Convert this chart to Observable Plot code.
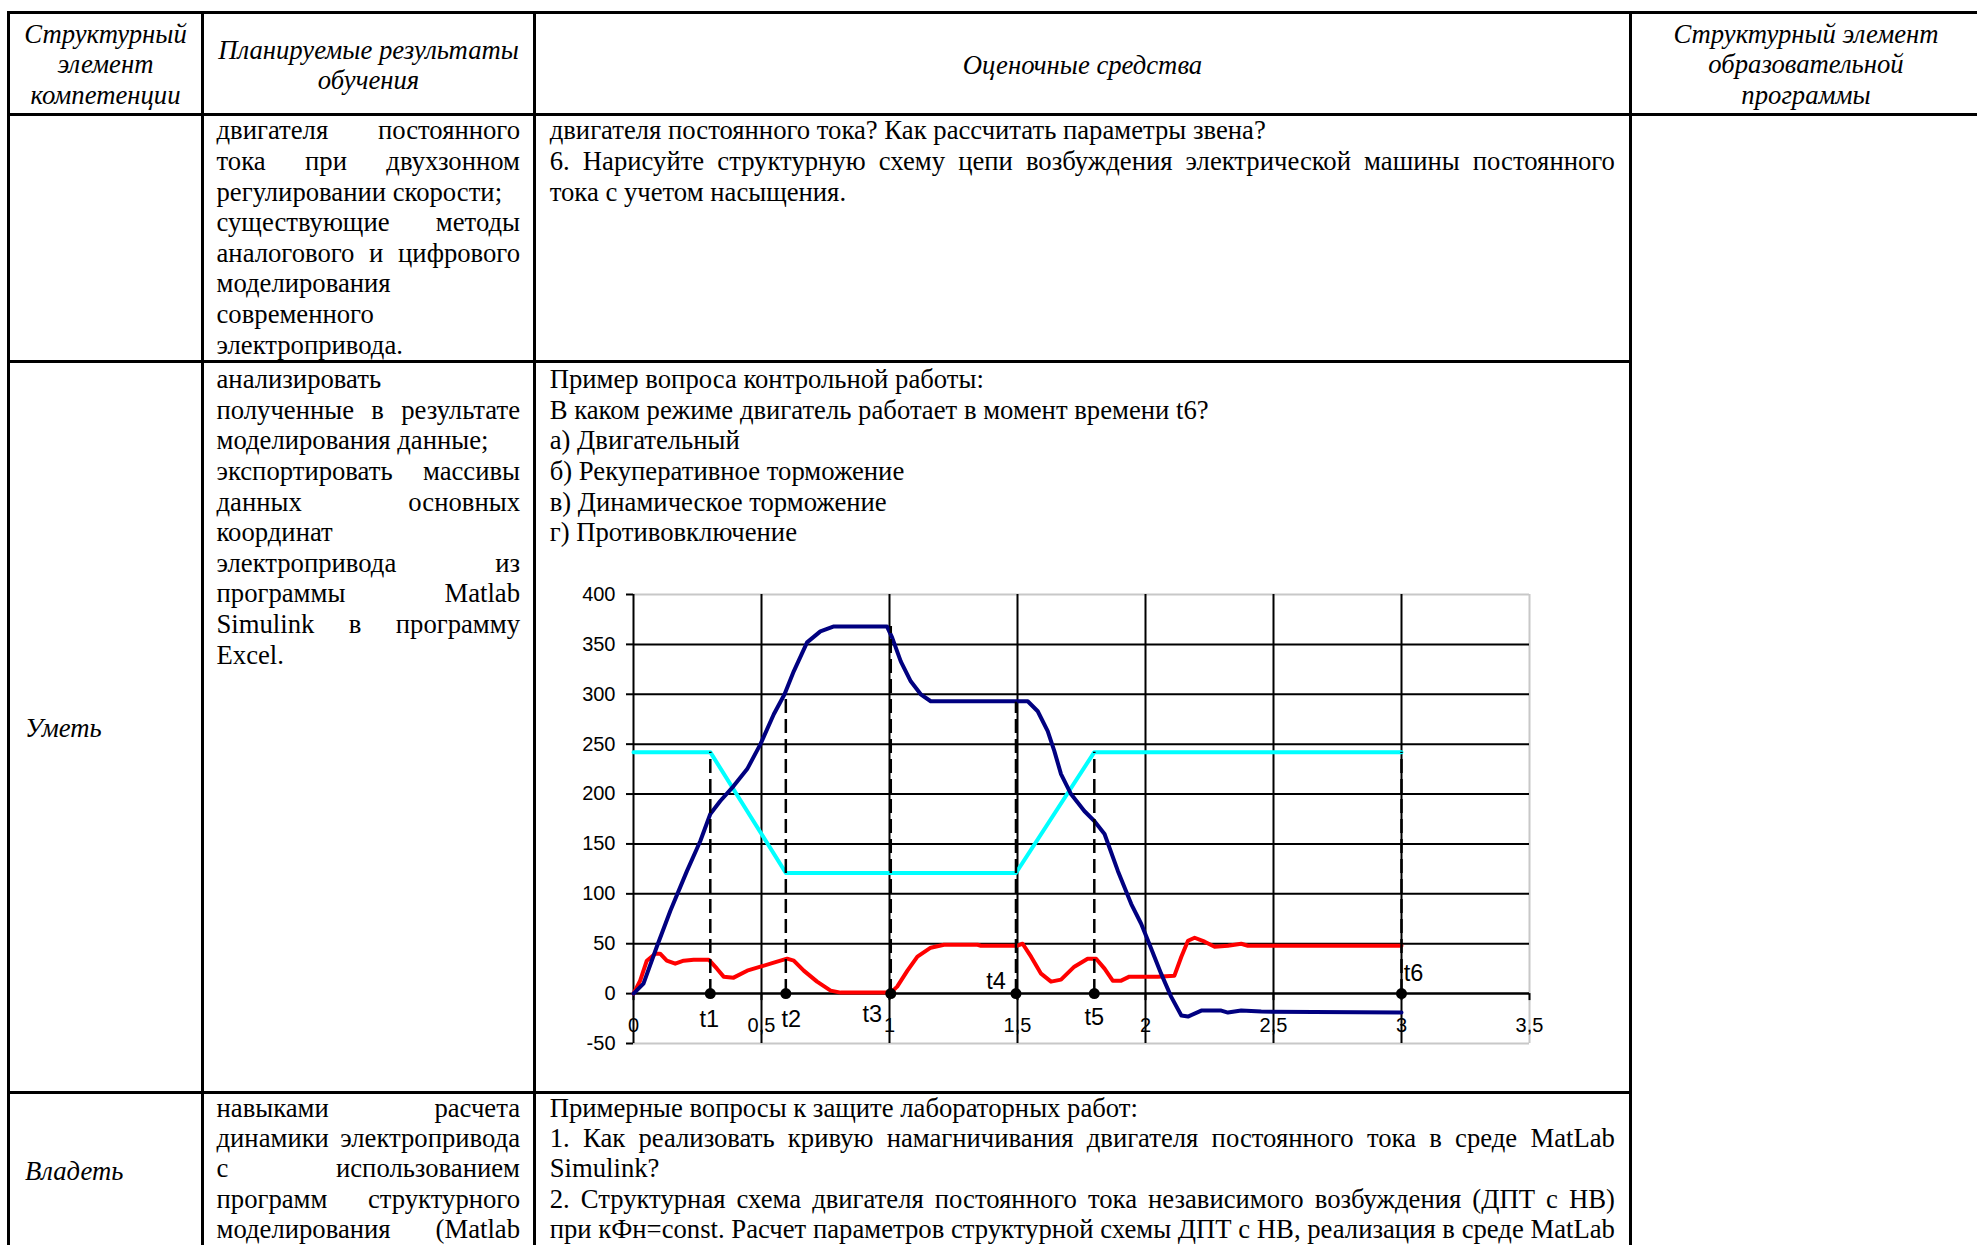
<!DOCTYPE html>
<html><head><meta charset="utf-8">
<script src="https://cdn.jsdelivr.net/npm/d3@7"></script>
<script src="https://cdn.jsdelivr.net/npm/@observablehq/plot@0.6"></script>
<style>
html,body{margin:0;padding:0;background:#fff;}
body{width:1977px;height:1245px;position:relative;overflow:hidden;font-family:"Liberation Serif","Times New Roman",serif;font-size:26.7px;color:#000;}
.ln{position:absolute;line-height:30.7px;height:30.7px;white-space:nowrap;}
.j{display:flex;justify-content:space-between;}
.i{font-style:italic;}
.hl{position:absolute;background:#000;height:2.7px;}
.vl{position:absolute;background:#000;width:2.7px;}
#chart{position:absolute;left:560px;top:570px;width:1000px;height:500px;}
</style></head><body>
<div id="chart"></div>
<script>
// ---- chart data ----
const speed = [[0,0],[0.039,10],[0.091,47],[0.144,83],[0.209,123],[0.261,153],[0.30,180],[0.339,193],[0.391,208],[0.444,225],[0.496,250],[0.548,280],[0.59,300],[0.626,323],[0.678,352],[0.73,363],[0.783,368],[0.99,368],[1.01,357],[1.044,333],[1.083,313],[1.122,300],[1.161,293],[1.54,293],[1.579,283],[1.618,263],[1.644,243],[1.67,220],[1.709,200],[1.761,183],[1.80,173],[1.84,160],[1.892,123],[1.944,90],[1.983,70],[2.01,53],[2.061,20],[2.1,-3],[2.14,-22],[2.166,-23],[2.218,-17],[2.296,-17],[2.322,-19],[2.374,-17],[2.452,-18],[3.0,-19]];
const flux = [[0,242],[0.30,242],[0.595,121],[1.494,121],[1.80,242],[3.0,242]];
const current = [[0,0],[0.026,13],[0.052,33],[0.085,40],[0.104,40],[0.13,33],[0.163,30],[0.196,33],[0.235,34],[0.294,34],[0.326,25],[0.352,17],[0.391,16],[0.444,23],[0.496,27],[0.548,31],[0.60,35],[0.626,33],[0.665,23],[0.717,12],[0.77,3],[0.809,1],[1.005,1],[1.03,7],[1.07,23],[1.109,37],[1.161,46],[1.213,49],[1.344,49],[1.357,48],[1.50,48],[1.52,50],[1.553,37],[1.592,20],[1.631,12],[1.67,14],[1.722,27],[1.774,35],[1.807,35],[1.84,25],[1.872,13],[1.905,13],[1.937,17],[2.048,17],[2.113,18],[2.14,37],[2.166,53],[2.192,56],[2.231,52],[2.27,47],[2.322,48],[2.374,50],[2.4,48],[3.0,48]];
const markNames = ["t1","t2","t3","t4","t5","t6"];
const markT = [0.30,0.595,1.005,1.494,1.80,3.0];
const markTop = [242,300,368,292,242,242];
const markLabelT = [0.296,0.616,0.933,1.416,1.80,3.047];
const markLabelV = [-26,-26,-21,12,-24,20];
const xTicks = [0,0.5,1,1.5,2,2.5,3,3.5];
const xTickLabels = ["0","0,5","1","1,5","2","2,5","3","3,5"];
const yTicks = [-50,0,50,100,150,200,250,300,350,400];

const yGrid = yTicks.filter(v => v > -50 && v < 400);
const xGrid = xTicks.filter(v => v > 0 && v < 3.5);
const marks = markNames.map((n,i) => ({name:n, t:markT[i], top:markTop[i], lt:markLabelT[i], lv:markLabelV[i]}));

const chart = Plot.plot({
  width: 1000, height: 500,
  marginLeft: 73, marginRight: 31, marginTop: 24, marginBottom: 27,
  x: {domain: [0, 3.5], axis: null},
  y: {domain: [-50, 400], axis: null},
  style: {fontFamily: "'Liberation Sans', Arial, sans-serif", background: "transparent", overflow: "visible", color: "#000"},
  marks: [
    Plot.ruleY([400, -50], {x1: 0, x2: 3.5, stroke: "#c8c8c8", strokeWidth: 2}),
    Plot.ruleX([3.5], {y1: -50, y2: 400, stroke: "#c8c8c8", strokeWidth: 2}),
    Plot.text(xTicks, {x: d => d, y: -32, text: (d, i) => xTickLabels[i], fontSize: 20, fill: "#000"}),
    Plot.ruleY(yGrid, {x1: 0, x2: 3.5, stroke: "#000", strokeWidth: 2}),
    Plot.ruleX(xGrid, {y1: -50, y2: 400, stroke: "#000", strokeWidth: 2}),
    Plot.ruleX(xTicks, {y1: 0, y2: -7, stroke: "#000", strokeWidth: 2}),
    Plot.ruleY([0], {x1: 0, x2: 3.5, stroke: "#000", strokeWidth: 2}),
    Plot.ruleX([0], {y1: -50, y2: 400, stroke: "#000", strokeWidth: 2}),
    Plot.axisY(yTicks, {anchor: "left", tickSize: 7, tickPadding: 11, fontSize: 20, strokeWidth: 2, tickFormat: d => String(d), label: null}),
    Plot.line(flux, {x: d => d[0], y: d => d[1], stroke: "#00ffff", strokeWidth: 4}),
    Plot.line(current, {x: d => d[0], y: d => d[1], stroke: "#ff0000", strokeWidth: 4}),
    Plot.line(speed, {x: d => d[0], y: d => d[1], stroke: "#000080", strokeWidth: 4}),
    Plot.ruleX(marks, {x: "t", y1: 0, y2: "top", stroke: "#000", strokeWidth: 2.5, strokeDasharray: "14,6"}),
    Plot.dot(marks, {x: "t", y: 0, r: 5.5, fill: "#000", stroke: "none"}),
    Plot.text(marks, {x: "lt", y: "lv", text: "name", fontSize: 23.5, fill: "#000"})
  ]
});
document.getElementById("chart").appendChild(chart);

// ---- table ----
function hl(x1, x2, y) { const d = document.createElement("div"); d.className = "hl"; d.style.left = x1 + "px"; d.style.width = (x2 - x1) + "px"; d.style.top = (y - 1.35) + "px"; document.body.appendChild(d); }
function vl(x, y1, y2) { const d = document.createElement("div"); d.className = "vl"; d.style.left = (x - 1.35) + "px"; d.style.top = y1 + "px"; d.style.height = (y2 - y1) + "px"; document.body.appendChild(d); }
hl(7, 1977, 12.3); hl(7, 1977, 114.5); hl(7, 1632, 361.7); hl(7, 1632, 1092.7);
vl(8.3, 11, 1245); vl(202.7, 11, 1245); vl(534.3, 11, 1245); vl(1630.7, 11, 1245);

const DY = 3;
function line(txt, left, right, baseline, mode, italic) {
  const d = document.createElement("div");
  d.className = "ln" + (italic ? " i" : "");
  d.style.left = left + "px"; d.style.width = (right - left) + "px";
  d.style.top = (baseline + DY - 24.36) + "px";
  if (mode === "j") {
    d.classList.add("j");
    txt.split(" ").forEach(w => { const s = document.createElement("span"); s.textContent = w; d.appendChild(s); });
  } else {
    d.textContent = txt;
    if (mode === "c") d.style.textAlign = "center";
  }
  document.body.appendChild(d);
}
function block(lines, left, right, base, step) {
  lines.forEach((l, i) => line(l[0], left, right, base + i * step, l[1], false));
}
// header
["Структурный", "элемент", "компетенции"].forEach((t, i) => line(t, 8, 203, 40 + i * 30.5, "c", true));
["Планируемые результаты", "обучения"].forEach((t, i) => line(t, 203, 534, 56 + i * 30.5, "c", true));
line("Оценочные средства", 534, 1631, 71, "c", true);
["Структурный элемент", "образовательной", "программы"].forEach((t, i) => line(t, 1631, 1981, 40 + i * 30.5, "c", true));

const C2L = 216.5, C2R = 520, C3L = 549.7, C3R = 1615;
block([["двигателя постоянного","j"],["тока при двухзонном","j"],["регулировании скорости;","l"],["существующие методы","j"],["аналогового и цифрового","j"],["моделирования","l"],["современного","l"],["электропривода.","l"]], C2L, C2R, 136.7, 30.6);
block([["двигателя постоянного тока? Как рассчитать параметры звена?","l"],["6. Нарисуйте структурную схему цепи возбуждения электрической машины постоянного","j"],["тока с учетом насыщения.","l"]], C3L, C3R, 136.7, 30.6);

line("Уметь", 25, 200, 734.5, "l", true);
block([["анализировать","l"],["полученные в результате","j"],["моделирования данные;","l"],["экспортировать массивы","j"],["данных основных","j"],["координат","l"],["электропривода из","j"],["программы Matlab","j"],["Simulink в программу","j"],["Excel.","l"]], C2L, C2R, 385.5, 30.6);
block([["Пример вопроса контрольной работы:","l"],["В каком режиме двигатель работает в момент времени t6?","l"],["а) Двигательный","l"],["б) Рекуперативное торможение","l"],["в) Динамическое торможение","l"],["г) Противовключение","l"]], C3L, C3R, 385.5, 30.6);

line("Владеть", 25, 200, 1177, "l", true);
block([["навыками расчета","j"],["динамики электропривода","j"],["с использованием","j"],["программ структурного","j"],["моделирования (Matlab","j"]], C2L, C2R, 1114, 30.4);
block([["Примерные вопросы к защите лабораторных работ:","l"],["1. Как реализовать кривую намагничивания двигателя постоянного тока в среде MatLab","j"],["Simulink?","l"],["2. Структурная схема двигателя постоянного тока независимого возбуждения (ДПТ с НВ)","j"],["при кФн=const. Расчет параметров структурной схемы ДПТ с НВ, реализация в среде MatLab","j"]], C3L, C3R, 1114, 30.4);
</script>
</body></html>
